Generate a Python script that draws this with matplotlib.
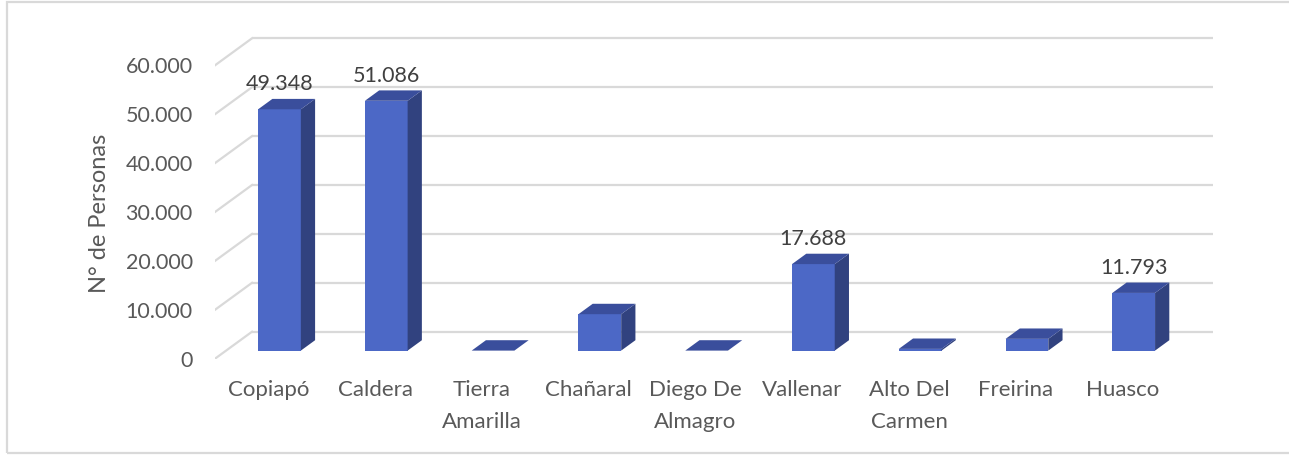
import matplotlib
matplotlib.use("Agg")
import matplotlib.pyplot as plt
from matplotlib.patches import Polygon, Rectangle

# ---- data ----
categories = ["Copiapó", "Caldera", "Tierra\nAmarilla", "Chañaral", "Diego De\nAlmagro",
              "Vallenar", "Alto Del\nCarmen", "Freirina", "Huasco"]
values = [49348, 51086, 0, 7450, 0, 17688, 350, 2400, 11793]
labeled = [True, True, False, False, False, True, False, False, True]
yticks = [0, 10000, 20000, 30000, 40000, 50000, 60000]
ytick_labels = ["0", "10.000", "20.000", "30.000", "40.000", "50.000", "60.000"]
ylabel = "N° de Personas"

# ---- style ----
W, H = 1289, 455
FRONT = "#4C68C6"
SIDE = "#31427F"
TOP = "#3A4E9C"
GRID = "#D9D9D9"
TXT = "#595959"
plt.rcParams['font.family'] = ['Lato', 'DejaVu Sans']

fig = plt.figure(figsize=(W / 100, H / 100), dpi=100)
px_per_unit = 4.89 / 1000.0
ax_left, ax_right = 215, 1213
ax_bottom_px, ax_top_px = 358.7, 30
ax = fig.add_axes([ax_left / W, 1 - ax_bottom_px / H, (ax_right - ax_left) / W,
                   (ax_bottom_px - ax_top_px) / H])
DX = 0.3466           # full depth offset (categories)
DY = 5520             # full depth offset (value units)
n = len(categories)
ax.set_xlim(0, n + DX)
ax.set_ylim(0, (ax_bottom_px - ax_top_px) / px_per_unit)
for s in ax.spines.values():
    s.set_visible(False)

# gridlines: back wall + left diagonal
for v in yticks:
    ax.plot([DX, n + DX], [v + DY, v + DY], color=GRID, lw=1.6, zorder=1, solid_capstyle='butt')
    ax.plot([0, DX], [v, v + DY], color=GRID, lw=1.6, zorder=1)

d0, d1 = 0.30, 0.685
hw = 0.2
for i, (v, lab) in enumerate(zip(values, labeled)):
    c = i + 0.5
    fx0 = c - hw + d0 * DX
    fx1 = c + hw + d0 * DX
    fy0 = d0 * DY
    ox = (d1 - d0) * DX
    oy = (d1 - d0) * DY
    # front face
    if v > 0:
        ax.bar(fx0, v, width=fx1 - fx0, bottom=fy0, align='edge', color=FRONT, zorder=3,
               linewidth=0)
        side = Polygon([(fx1, fy0), (fx1 + ox, fy0 + oy), (fx1 + ox, fy0 + oy + v), (fx1, fy0 + v)],
                       closed=True, facecolor=SIDE, edgecolor='none', zorder=3)
        ax.add_patch(side)
    top = Polygon([(fx0, fy0 + v), (fx1, fy0 + v), (fx1 + ox, fy0 + oy + v), (fx0 + ox, fy0 + oy + v)],
                  closed=True, facecolor=TOP, edgecolor='none', zorder=3)
    ax.add_patch(top)
    if lab:
        ax.annotate(f"{v:,}".replace(",", "."), xy=((fx0 + fx1) / 2, fy0 + oy + v),
                    xytext=(0, 10.5), textcoords='offset points', ha='center', va='center',
                    fontsize=15.5, color="#404040", zorder=4)

ax.set_yticks(yticks)
ax.set_yticklabels(ytick_labels, fontsize=15.5, color=TXT)
ax.set_xticks([i + 0.5 for i in range(n)])
ax.set_xticklabels(categories, fontsize=16, color=TXT, linespacing=1.75, va='top')
ax.tick_params(axis='y', length=0, pad=16)
ax.tick_params(axis='x', length=0, pad=15)
ax.set_ylabel(ylabel, fontsize=17, color=TXT)
ax.yaxis.label.set_va('center')
ax.yaxis.set_label_coords(-(ax_left - 100) / (ax_right - ax_left), (ax_bottom_px - 213) / (ax_bottom_px - ax_top_px))

# outer frame
fig.add_artist(Rectangle((7 / W, 2 / H), 1.2, 451 / H, transform=fig.transFigure, fill=False,
                         edgecolor=GRID, lw=1.6))

fig.savefig("out.png", dpi=100)
